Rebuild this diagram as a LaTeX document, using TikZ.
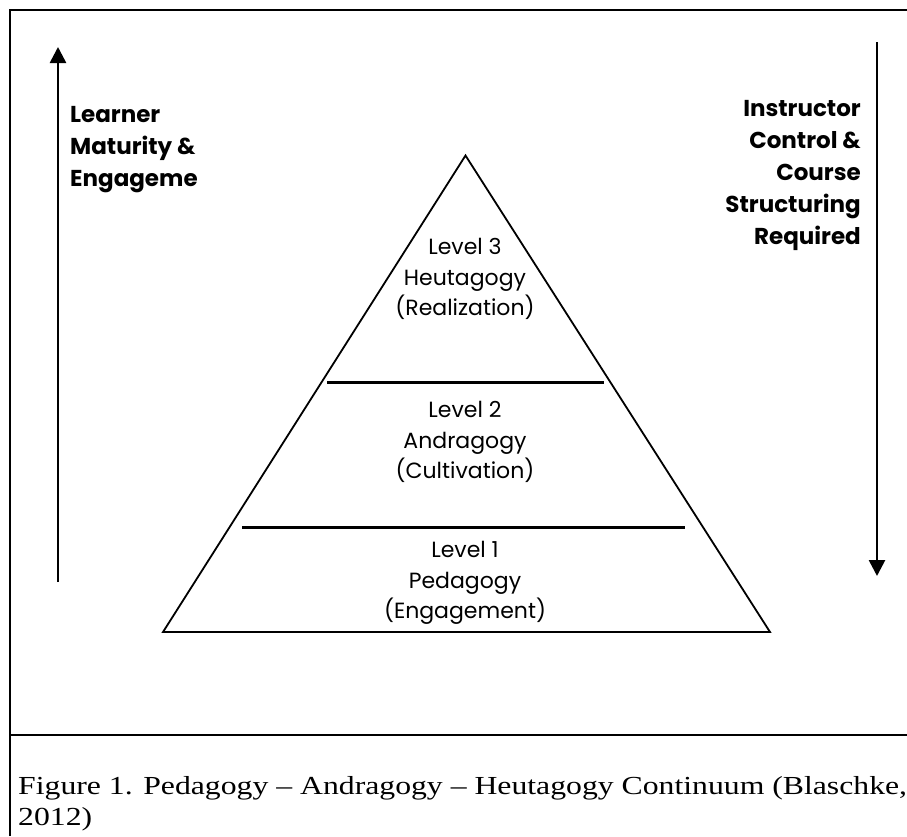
\documentclass[tikz,border=0pt]{standalone}
\usepackage{fontspec}
\setmainfont{Liberation Serif}
\newfontfamily\gothic{Poppins}
\usetikzlibrary{arrows.meta}

\begin{document}
\begin{tikzpicture}[x=1pt,y=-1pt,
    level/.style={align=center,inner sep=0pt,font=\gothic\fontsize{22}{30.5}\selectfont},
    side/.style={inner sep=0pt,font=\gothic\bfseries\fontsize{23}{32}\selectfont},
    axis/.style={line width=2.6pt,-{Triangle[width=16pt,length=16pt]}},
    rule/.style={line width=2.4pt}]
  \useasboundingbox (0,0) rectangle (907,836);

  % frame and caption rule
  \draw[line width=2.8pt] (10,836) -- (10,10) -- (907,10);
  \draw[line width=2.8pt] (10,735) -- (907,735);

  % pyramid
  \coordinate (apex) at (465.5,155.5);
  \coordinate (bl) at (163,632);
  \coordinate (br) at (770,632);
  \draw[line width=1.8pt,line join=miter] (apex) -- (br) -- (bl) -- cycle;
  \coordinate (d1l) at (242,527.5);
  \coordinate (d1r) at (685,527.5);
  \coordinate (d2l) at (327,382.5);
  \coordinate (d2r) at (604,382.5);
  \draw[rule] (d1l) -- (d1r);
  \draw[rule] (d2l) -- (d2r);

  % level labels
  \node[level] (lvl3) at (465,279) {Level 3\\Heutagogy\\(Realization)};
  \node[level] (lvl2) at (465,442) {Level 2\\Andragogy\\(Cultivation)};
  \node[level] (lvl1) at (465,583) {Level 1\\Pedagogy\\(Engagement)};

  % side arrows
  \coordinate (lbot) at (58,582);
  \coordinate (ltop) at (58,47);
  \draw[axis] (lbot) -- (ltop);
  \coordinate (rtop) at (877,42);
  \coordinate (rbot) at (877,576);
  \draw[axis] (rtop) -- (rbot);

  \node[side,align=left,anchor=north west] (learner) at (70,106)
    {Learner\\Maturity \&\\Engageme};
  \node[side,align=right,anchor=north east] (instructor) at (861,100)
    {Instructor\\Control \&\\Course\\Structuring\\Required};

  % caption
  \node[anchor=west,align=left,inner sep=0pt,font=\fontsize{26}{31}\selectfont]
    (caption) at (18,804)
    {\scalebox{1.22}[1]{Figure 1. Pedagogy -- Andragogy -- Heutagogy Continuum (Blaschke,}\\
     \scalebox{1.22}[1]{2012)}};
\end{tikzpicture}
\end{document}
